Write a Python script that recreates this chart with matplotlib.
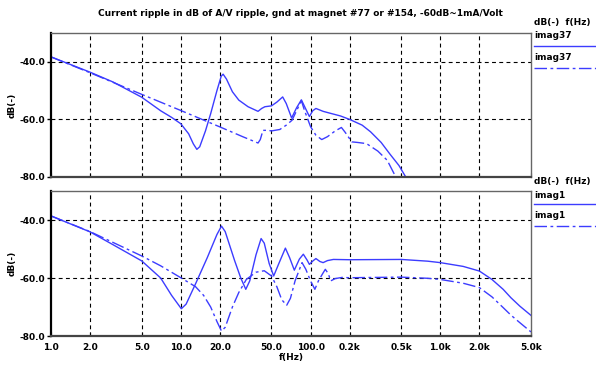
import matplotlib
matplotlib.use("Agg")
import matplotlib.pyplot as plt
from matplotlib.lines import Line2D

title = "Current ripple in dB of A/V ripple, gnd at magnet #77 or #154, -60dB~1mA/Volt"
xtick_vals = [1, 2, 5, 10, 20, 50, 100, 200, 500, 1000, 2000, 5000]
xtick_labels = ["1.0", "2.0", "5.0", "10.0", "20.0", "50.0", "100.0", "0.2k", "0.5k", "1.0k", "2.0k", "5.0k"]
ytick_vals = [-40, -60, -80]
ytick_labels = ["-40.0", "-60.0", "-80.0"]

# Top panel: imag37 (solid)
top_solid_f = [1.0, 2.0, 3.0, 5.0, 7.0, 8.5, 10, 11.5, 12.5, 13.3, 14, 15.5, 17, 19, 20.5, 21.2, 22.5,
               25, 28, 33, 39.4, 42, 44.5, 50, 55, 61, 65, 71.5, 78, 85, 91, 98, 104, 110, 125, 140,
               170, 200, 250, 290, 350, 410, 480, 550]
top_solid_db = [-38.3, -43.6, -47.0, -52.3, -57.0, -59.3, -61.5, -65, -68.5, -70.4, -69.5, -64, -58, -50,
                -45, -44.3, -46, -50.4, -53.3, -55.6, -57.2, -56.2, -55.6, -55.3, -54, -52.2, -54.5,
                -59.5, -56, -53.2, -56, -59, -57, -56.2, -57.2, -57.8, -58.8, -60, -62, -64.3, -68,
                -72.1, -76, -80.5]
# Top panel: imag37 (dash-dot)
top_dash_f = [1.0, 2.0, 5.0, 10, 20, 30, 39.4, 41, 43, 47, 50, 58, 65, 72, 80, 85, 90, 100, 110, 122,
              135, 155, 173, 185, 208, 230, 270, 330, 390, 460]
top_dash_db = [-38.3, -43.8, -51.3, -56.9, -62.6, -66, -68.2, -67, -63.8, -63.8, -64, -63.5, -62, -60.3,
               -56, -53.5, -57, -62.5, -65.5, -67, -66, -64, -62.8, -64.5, -67.8, -68, -68.4, -71,
               -74.2, -80.5]

# Bottom panel: imag1 (solid)
bot_solid_f = [1.0, 2.0, 3.0, 5.0, 7.0, 8.5, 10.1, 11, 13, 16, 19, 20.6, 22, 26, 29, 31.7, 34, 38, 41.6,
               44, 48, 52, 57, 64, 69, 75, 82, 88, 94, 98, 105, 110, 118, 125, 135, 150, 200, 500,
               800, 1000, 1500, 2000, 2500, 3050, 3500, 4100, 5000]
bot_solid_db = [-38.6, -44.1, -48.5, -54.1, -60, -66, -70.6, -69, -62, -53, -45, -42.1, -44, -54, -60,
                -63.9, -61, -52, -46.4, -48, -55, -59.3, -55, -49.7, -53, -57.3, -53.5, -51.8, -53.8,
                -55.3, -54, -53.3, -54.3, -54.7, -54, -53.6, -53.7, -53.6, -54.2, -54.7, -56, -57.6,
                -60.5, -63.9, -66.8, -69.7, -72.9]
# Bottom panel: imag1 (dash-dot)
bot_dash_f = [1.0, 2.0, 5.0, 7.0, 10, 13, 15, 17, 19, 20.6, 22, 25, 28, 32, 38, 44, 50, 55, 60, 65.5,
              70, 76, 86, 92, 100, 108, 115, 124, 130, 137, 143, 155, 175, 200, 500, 800, 1000, 1500,
              2000, 2500, 3050, 3500, 4100, 5000]
bot_dash_db = [-38.6, -44, -52.4, -55.8, -59.9, -63, -66, -70, -75, -78.3, -77, -70, -65, -60.5, -58,
               -57.5, -59.3, -63, -67.5, -69.4, -67, -61, -54.7, -57, -61, -63.9, -61, -58.5, -57,
               -58.5, -61, -60.2, -59.8, -59.9, -59.7, -60.1, -60.5, -61.8, -63.3, -66.5, -70.2,
               -72.8, -75.4, -78.6]

W, H = 596, 365
BLUE = "#3c3cff"
DASHDOT = (0, (9, 2.5, 2, 2.5))
FS = 6.5
plt.rcParams['font.family'] = ['DejaVu Sans']
plt.rcParams['font.weight'] = 'bold'

fig = plt.figure(figsize=(W / 100, H / 100), dpi=100)

def px_axes(l, t, r, b):
    return fig.add_axes([l / W, 1 - b / H, (r - l) / W, (b - t) / H])

ax_top = px_axes(51, 33, 531, 177)
ax_bot = px_axes(51, 191, 531, 336)

panels = [
    (ax_top, top_solid_f, top_solid_db, top_dash_f, top_dash_db),
    (ax_bot, bot_solid_f, bot_solid_db, bot_dash_f, bot_dash_db),
]
for ax, sf, sd, df, dd in panels:
    ax.set_xscale('log')
    ax.set_xlim(1, 5000)
    ax.set_ylim(-80, -30)
    ax.plot(sf, sd, color=BLUE, lw=1.0, solid_joinstyle='round', clip_on=True)
    ax.plot(df, dd, color=BLUE, lw=1.0, linestyle=DASHDOT)
    ax.set_xticks(xtick_vals)
    ax.set_xticks([], minor=True)
    ax.set_yticks(ytick_vals)
    ax.set_yticklabels(ytick_labels, fontsize=FS, fontweight='bold')
    for v in xtick_vals[1:-1]:
        ax.axvline(v, color='black', lw=0.8, linestyle=(0, (3.5, 3)), zorder=0)
    for v in [-40, -60]:
        ax.axhline(v, color='black', lw=0.8, linestyle=(0, (3.5, 3)), zorder=0)
    ax.tick_params(axis='y', direction='out', length=3, width=1, pad=1, colors='black')
    ax.tick_params(axis='x', direction='in', length=3, width=0.8)
    ax.spines['left'].set_linewidth(1.6)
    ax.spines['left'].set_color('black')
    ax.spines['bottom'].set_linewidth(1.6)
    ax.spines['bottom'].set_color('#444444')
    ax.spines['top'].set_linewidth(1.0)
    ax.spines['top'].set_color('#666666')
    ax.spines['right'].set_linewidth(1.0)
    ax.spines['right'].set_color('#666666')
    ax.set_ylabel("dB(-)", fontsize=FS, fontweight='bold', labelpad=2)

ax_top.set_xticklabels([])
ax_bot.set_xticklabels(xtick_labels, fontsize=FS, fontweight='bold')
ax_bot.tick_params(axis='x', pad=5)
ax_bot.set_xlabel("f(Hz)", fontsize=FS, fontweight='bold', labelpad=1)

fig.text(300 / W, 1 - 14 / H, title, ha='center', va='center', fontsize=FS, fontweight='bold')

def ftxt(x, y, s):
    fig.text(x / W, 1 - y / H, s, ha='left', va='center', fontsize=FS, fontweight='bold')

def fline(y, ls):
    fig.add_artist(Line2D([534 / W, 596 / W], [1 - y / H, 1 - y / H], color=BLUE, lw=1.0, linestyle=ls))

ftxt(534, 23, "dB(-)  f(Hz)")
ftxt(534, 36, "imag37")
fline(46, '-')
ftxt(534, 58, "imag37")
fline(68, DASHDOT)
ftxt(534, 181, "dB(-)  f(Hz)")
ftxt(534, 195, "imag1")
fline(204, '-')
ftxt(534, 216, "imag1")
fline(226, DASHDOT)

fig.savefig("out.png", dpi=100)
